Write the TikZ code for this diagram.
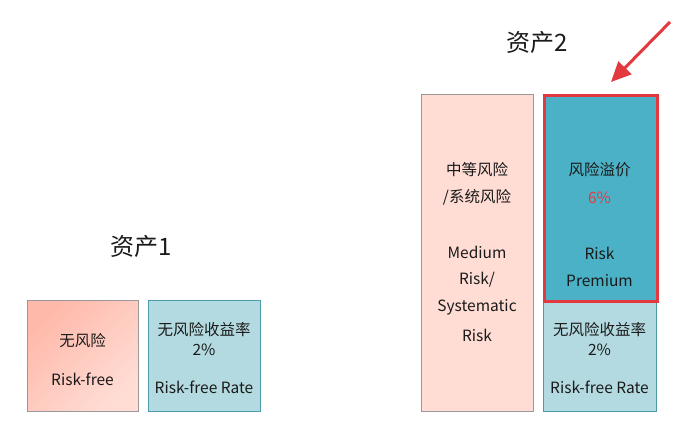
\documentclass[tikz,border=0pt]{standalone}
\usepackage{fontspec}
\setmainfont{Noto Sans CJK SC}
\usetikzlibrary{arrows.meta}
\definecolor{salmonD}{HTML}{FFB9AA}
\definecolor{salmonL}{HTML}{FFDDD5}
\definecolor{tealD}{HTML}{4BB1C6}
\definecolor{tealL}{HTML}{B3DAE0}
\definecolor{tealB}{HTML}{4A9AA8}
\definecolor{redB}{HTML}{E3393E}
\definecolor{txt}{HTML}{1A1A1A}
\begin{document}
\begin{tikzpicture}[x=1pt,y=-1pt,
  boxbase/.style={draw, line width=0.6pt, inner sep=0pt, anchor=north west},
  riskbox/.style={boxbase, draw=gray!80},
  rfbox/.style={boxbase, draw=tealB, fill=tealL},
  lbl/.style={text=txt, font=\fontsize{15.5}{17}\selectfont, inner sep=0pt},
  title/.style={text=txt, font=\fontsize{24}{27}\selectfont, inner sep=0pt}]
\useasboundingbox (0,0) rectangle (693,437);
% Asset 1
\node[riskbox, minimum width=111pt, minimum height=111pt,
      shading=axis, top color=salmonD, bottom color=salmonL, shading angle=45] (a1r) at (27,300) {};
\node[rfbox, minimum width=112pt, minimum height=111pt] (a1f) at (148,300) {};
\node[title] (t1) at (141,246) {资产1};
\node[lbl] (a1r1) at (82.5,341) {无风险};
\node[lbl] (a1r2) at (82.5,379) {Risk-free};
\node[lbl] (a1f1) at (204,330) {无风险收益率};
\node[lbl] (a1f2) at (204,350) {2\%};
\node[lbl] (a1f3) at (204,387) {Risk-free Rate};
% Asset 2
\node[riskbox, minimum width=112pt, minimum height=317pt,
      left color=salmonL, middle color=salmonD, right color=salmonL] (a2r) at (421,94) {};
\node[rfbox, minimum width=113pt, minimum height=111pt] (a2f) at (543,300) {};
\node[boxbase, draw=redB, line width=2.6pt, fill=tealD, minimum width=113pt, minimum height=206pt] (a2p) at (543,94) {};
\node[title] (t2) at (537,42) {资产2};
\node[lbl] (a2r1) at (477,170) {中等风险};
\node[lbl] (a2r2) at (477,197) {/系统风险};
\node[lbl] (a2r3) at (477,252) {Medium};
\node[lbl] (a2r4) at (477,280) {Risk/};
\node[lbl] (a2r5) at (477,307) {Systematic};
\node[lbl] (a2r6) at (477,335) {Risk};
\node[lbl] (a2p1) at (599.5,170) {风险溢价};
\node[lbl, text=redB] (a2p2) at (599.5,198) {6\%};
\node[lbl] (a2p3) at (599.5,253) {Risk};
\node[lbl] (a2p4) at (599.5,281) {Premium};
\node[lbl] (a2f1) at (599.5,330) {无风险收益率};
\node[lbl] (a2f2) at (599.5,350) {2\%};
\node[lbl] (a2f3) at (599.5,387) {Risk-free Rate};
% Arrow
\coordinate (arrS) at (670,22);
\coordinate (arrE) at (611,82);
\draw[redB, line width=3pt, -{Triangle[length=20pt,width=18pt]}] (arrS) -- (arrE);
\end{tikzpicture}
\end{document}
